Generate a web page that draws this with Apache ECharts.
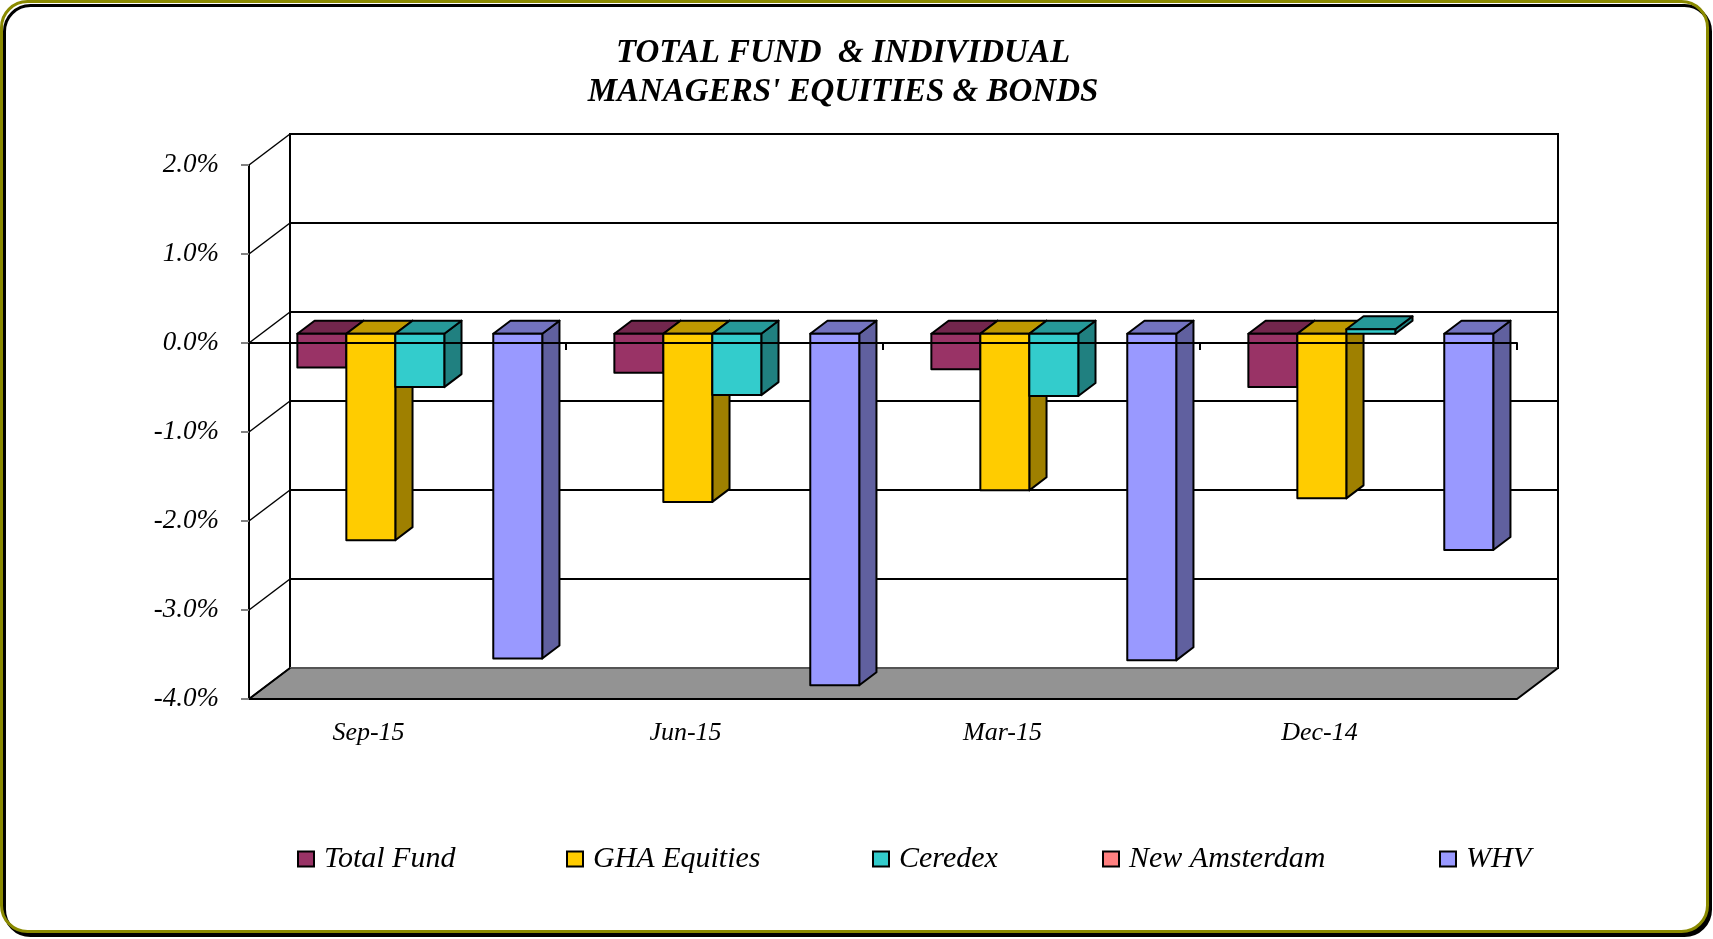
<!DOCTYPE html>
<html>
<head>
<meta charset="utf-8">
<script src="https://cdn.jsdelivr.net/npm/echarts@6/dist/echarts.min.js"></script>
<style>
    html, body { margin: 0; padding: 0; background: #fff; }
    #chart { width: 1713px; height: 939px; }
</style>
</head>
<body>
<div id="chart"></div>
<script>
// chart data (percent)
var categories = ['Sep-15', 'Jun-15', 'Mar-15', 'Dec-14'];
var managers = ['Total Fund', 'GHA Equities', 'Ceredex', 'New Amsterdam', 'WHV'];
var totalFund = [-0.38, -0.44, -0.40, -0.60];
var ghaEquities = [-2.32, -1.89, -1.76, -1.85];
var ceredex = [-0.60, -0.69, -0.70, 0.05];
var newAmsterdam = [null, null, null, null];
var whv = [-3.65, -3.95, -3.67, -2.43];
var managerValues = [totalFund, ghaEquities, ceredex, newAmsterdam, whv];
var managerColors = ['#993366', '#FFCC00', '#33CCCC', '#FF8080', '#9999FF'];
var yTicks = [-4, -3, -2, -1, 0, 1, 2];

// fake 3d depth of the plot box
var DX = 41, DY = -31;
var FRONT = 0.30, BACK = 0.72;
var BAR_RATIO = 0.1545;
var FONT = 'Liberation Serif';

function shade(hex, f) {
    var n = parseInt(hex.slice(1), 16);
    var r = Math.round(((n >> 16) & 255) * f);
    var g = Math.round(((n >> 8) & 255) * f);
    var b = Math.round((n & 255) * f);
    return 'rgb(' + r + ',' + g + ',' + b + ')';
}

function makeBarRenderer(k, color) {
    return function (params, api) {
        var v = api.value(1);
        if (v === null || isNaN(v)) return null;
        var cat = api.value(0);
        var band = api.size([1, 0])[0];
        var bw = band * BAR_RATIO;
        var c = api.coord([cat, 0]);
        var x0 = c[0] - bw * managers.length / 2 + k * bw + DX * FRONT;
        var x1 = x0 + bw;
        var yTop = api.coord([cat, Math.max(v, 0)])[1] + DY * FRONT;
        var yBot = api.coord([cat, Math.min(v, 0)])[1] + DY * FRONT;
        var ddx = DX * (BACK - FRONT), ddy = DY * (BACK - FRONT);
        var edge = { stroke: '#000', lineWidth: 2, lineJoin: 'round' };
        return {
            type: 'group',
            children: [{
                type: 'polygon',
                shape: { points: [[x1, yTop], [x1 + ddx, yTop + ddy], [x1 + ddx, yBot + ddy], [x1, yBot]] },
                style: Object.assign({ fill: shade(color, 0.625) }, edge)
            }, {
                type: 'polygon',
                shape: { points: [[x0, yTop], [x1, yTop], [x1 + ddx, yTop + ddy], [x0 + ddx, yTop + ddy]] },
                style: Object.assign({ fill: shade(color, 0.75) }, edge)
            }, {
                type: 'rect',
                shape: { x: x0, y: yTop, width: bw, height: yBot - yTop },
                style: Object.assign({ fill: color }, edge)
            }]
        };
    };
}

var chart = echarts.init(document.getElementById('chart'));

var series = [{
    // floor
    type: 'custom',
    name: 'floor',
    silent: true,
    z: 1,
    xAxisIndex: 0,
    yAxisIndex: 0,
    data: [[0, yTicks[0]]],
    renderItem: function (params, api) {
        var cs = params.coordSys;
        var y = api.coord([0, api.value(1)])[1];
        var xl = cs.x, xr = cs.x + cs.width;
        return {
            type: 'group',
            children: [{
                type: 'polygon',
                shape: { points: [[xl, y], [xr, y], [xr + DX, y + DY], [xl + DX, y + DY]] },
                style: { fill: '#939393' }
            }, {
                type: 'polyline',
                shape: { points: [[xl + DX, y + DY], [xr + DX, y + DY]] },
                style: { stroke: '#555', lineWidth: 2, fill: null }
            }, {
                type: 'polyline',
                shape: { points: [[xl + DX, y + DY], [xl, y], [xr, y], [xr + DX, y + DY]] },
                style: { stroke: '#000', lineWidth: 2, fill: null }
            }]
        };
    }
}, {
    // left side wall lines
    type: 'custom',
    name: 'wall',
    silent: true,
    z: 1,
    xAxisIndex: 0,
    yAxisIndex: 0,
    data: yTicks.map(function (t) { return [0, t]; }),
    renderItem: function (params, api) {
        var y = api.coord([0, api.value(1)])[1];
        var x = params.coordSys.x;
        return {
            type: 'line',
            shape: { x1: x, y1: y, x2: x + DX, y2: y + DY },
            style: { stroke: '#000', lineWidth: 1.5 }
        };
    }
}];

managers.forEach(function (name, k) {
    series.push({
        type: 'custom',
        name: name,
        xAxisIndex: 0,
        yAxisIndex: 0,
        z: 3,
        itemStyle: { color: managerColors[k] },
        data: managerValues[k].map(function (v, j) { return [j, v === null ? '-' : v]; }),
        renderItem: makeBarRenderer(k, managerColors[k])
    });
});

var legendLeft = [297, 566, 872, 1102, 1439];

option = {
    backgroundColor: 'transparent',
    animation: false,
    graphic: [{
        type: 'rect',
        z: -10,
        silent: true,
        shape: { x: 1.5, y: 1.5, width: 1706, height: 930, r: 26 },
        style: {
            fill: '#fff',
            stroke: '#8a8a00',
            lineWidth: 3,
            shadowColor: '#000',
            shadowOffsetX: 3,
            shadowOffsetY: 4,
            shadowBlur: 0
        }
    }],
    title: {
        text: 'TOTAL FUND  & INDIVIDUAL\nMANAGERS\' EQUITIES & BONDS',
        left: 843,
        top: 34,
        padding: 0,
        textAlign: 'center',
        textStyle: {
            fontFamily: FONT,
            fontSize: 33,
            fontStyle: 'italic',
            fontWeight: 'bold',
            color: '#000',
            lineHeight: 39
        }
    },
    legend: managers.map(function (name, i) {
        return {
            data: [name],
            left: legendLeft[i],
            top: 844,
            padding: 0,
            icon: 'rect',
            itemWidth: 16,
            itemHeight: 15,
            itemStyle: { borderColor: '#000', borderWidth: 2 },
            selectedMode: false,
            textStyle: {
                fontFamily: FONT,
                fontSize: 30,
                fontStyle: 'italic',
                color: '#000',
                padding: [0, 0, 0, 5]
            }
        };
    }),
    grid: [
        { left: 249, right: 196, top: 165, bottom: 240 },
        { left: 290, right: 155, top: 134, bottom: 271, show: true, borderColor: '#000', borderWidth: 2, backgroundColor: 'transparent' }
    ],
    xAxis: [{
        gridIndex: 0,
        type: 'category',
        data: categories,
        position: 'bottom',
        z: 10,
        axisLine: { onZero: true, lineStyle: { color: '#000', width: 2 } },
        axisTick: { show: true, interval: 0, length: 7, lineStyle: { color: '#000', width: 2 } },
        axisLabel: { show: false },
        splitLine: { show: false }
    }, {
        gridIndex: 0,
        type: 'category',
        data: categories,
        position: 'bottom',
        axisLine: { show: false, onZero: false },
        axisTick: { show: false },
        axisLabel: {
            margin: 21,
            fontFamily: FONT,
            fontSize: 26,
            fontStyle: 'italic',
            color: '#000',
            padding: [0, 78, 0, 0]
        },
        splitLine: { show: false }
    }, {
        gridIndex: 1,
        type: 'value',
        show: false
    }],
    yAxis: [{
        gridIndex: 0,
        type: 'value',
        min: yTicks[0],
        max: yTicks[yTicks.length - 1],
        interval: 1,
        z: 10,
        axisLine: { show: true, onZero: false, lineStyle: { color: '#000', width: 2 } },
        axisTick: { show: true, length: 8, lineStyle: { color: '#808080', width: 2 } },
        axisLabel: {
            margin: 30,
            fontFamily: FONT,
            fontSize: 27,
            fontStyle: 'italic',
            color: '#000',
            formatter: function (v) { return v.toFixed(1) + '%'; }
        },
        splitLine: { show: false }
    }, {
        gridIndex: 1,
        type: 'value',
        min: yTicks[0],
        max: yTicks[yTicks.length - 1],
        interval: 1,
        axisLine: { show: false },
        axisTick: { show: false },
        axisLabel: { show: false },
        splitLine: { show: true, lineStyle: { color: '#000', width: 2 } }
    }],
    series: series
};

chart.setOption(option);
</script>
</body>
</html>
